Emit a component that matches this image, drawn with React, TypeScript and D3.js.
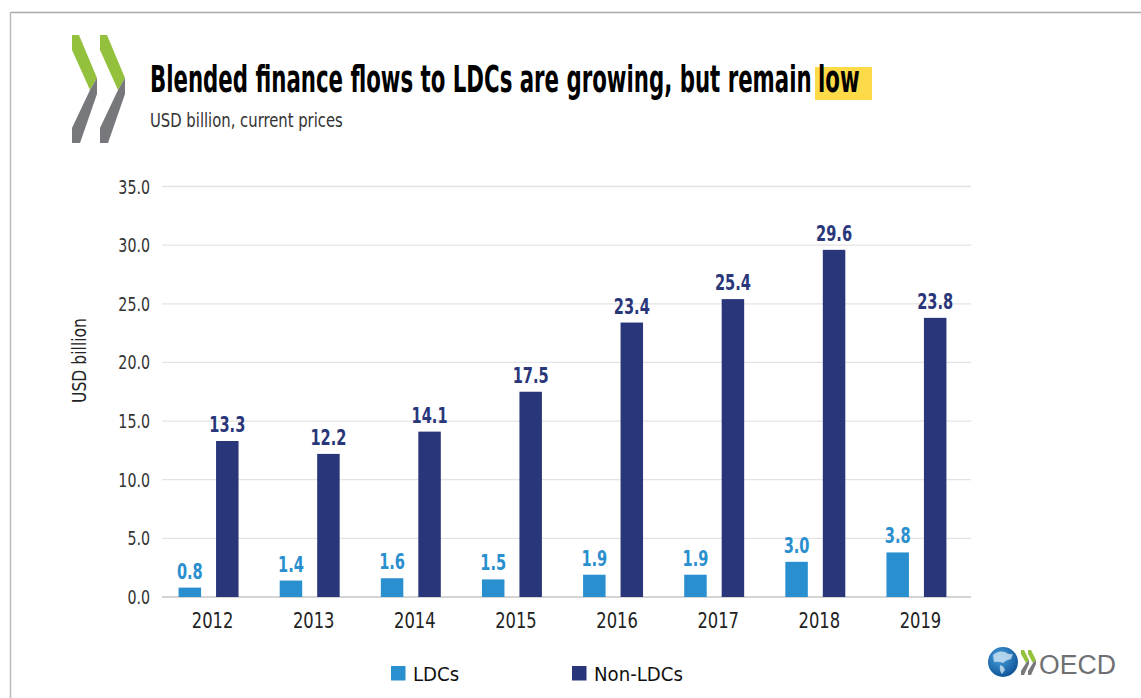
import React from "react";
import * as d3 from "d3";

const years = ["2012", "2013", "2014", "2015", "2016", "2017", "2018", "2019"];
const ldcs = [0.8, 1.4, 1.6, 1.5, 1.9, 1.9, 3.0, 3.8];
const nonLdcs = [13.3, 12.2, 14.1, 17.5, 23.4, 25.4, 29.6, 23.8];
const seriesNames = ["LDCs", "Non-LDCs"];
const seriesColors = ["#2a8fce", "#29377a"];
const yTicks = [0, 5, 10, 15, 20, 25, 30, 35];

const W = 1141;
const H = 698;
const plot = { left: 162, right: 971, top: 186.5, bottom: 597 };
const font = "'DejaVu Sans Condensed', 'DejaVu Sans', sans-serif";

// the original uses a narrow house font; squeeze a local font to the same widths
let ctx: CanvasRenderingContext2D | null = null;
function squeeze(sample: string, size: number, target: number, weight = "normal", family = font) {
  if (!ctx) ctx = document.createElement("canvas").getContext("2d");
  if (!ctx) return 1;
  ctx.font = `${weight} ${size}px ${family}`;
  const w = ctx.measureText(sample).width;
  return w > 0 ? target / w : 1;
}

function NText(props: {
  x: number; y: number; k: number; size: number; anchor?: string; weight?: string;
  fill: string; family?: string; rotate?: number; children: React.ReactNode;
}) {
  const { x, y, k, size, anchor = "start", weight = "normal", fill, family = font, rotate = 0 } = props;
  return (
    <g transform={`translate(${x},${y}) rotate(${rotate}) scale(${k},1)`}>
      <text textAnchor={anchor} fontSize={size} fontWeight={weight} fill={fill} fontFamily={family}>
        {props.children}
      </text>
    </g>
  );
}

function Chevron({ dx }: { dx: number }) {
  return (
    <g transform={`translate(${dx},0)`}>
      <polygon points="72,35 79,35 97,78 90,90 72,50" fill="#94c13d" />
      <polygon points="90,90 97,78 97,94 80,143 72,143 72,128" fill="#77787b" />
    </g>
  );
}

export default function App() {
  const x0 = d3.scaleBand<string>().domain(years).range([plot.left - 4, plot.right - 4]).paddingInner(0.407).paddingOuter(0.2035);
  const x1 = d3.scaleBand<string>().domain(seriesNames).range([0, x0.bandwidth()]).paddingInner(0.4);
  const y = d3.scaleLinear().domain([0, 35]).range([plot.bottom, plot.top]);
  const fmt = d3.format(".1f");

  const kTitle = squeeze("Blended finance flows to LDCs are growing, but remain", 38, 662, "bold");
  const kSub = squeeze("USD billion, current prices", 19, 193);
  const kTick = squeeze("35.0", 19, 31.7);
  const kYear = squeeze("2012", 22, 41.6);
  const kVal = squeeze("13.3", 20.5, 36, "bold");
  const kLeg = squeeze("Non-LDCs", 20, 89);
  const kYLab = squeeze("USD billion", 19, 85);
  const oecdFont = "'Liberation Sans', sans-serif";
  const kOecd = squeeze("OECD", 28, 77, "normal", oecdFont);

  const rows = years.map((yr, i) => ({ yr, vals: [ldcs[i], nonLdcs[i]] }));

  return (
    <svg width={W} height={H} style={{ position: "absolute", left: 0, top: 0, background: "#fff" }}>
      {/* frame */}
      <line x1={10.5} x2={W} y1={12.5} y2={12.5} stroke="#aaa" strokeWidth={1.5} />
      <line x1={10.5} x2={10.5} y1={12} y2={H} stroke="#bbb" strokeWidth={1.5} />

      <Chevron dx={0} />
      <Chevron dx={28} />

      {/* title */}
      <rect x={815} y={67} width={57} height={33} fill="#fcda48" />
      <NText x={150} y={92} k={kTitle} size={38} weight="bold" fill="#000">
        Blended finance flows to LDCs are growing, but remain
      </NText>
      <NText x={818} y={92} k={kTitle} size={38} weight="bold" fill="#000">
        low
      </NText>
      <NText x={150} y={127} k={kSub} size={19} fill="#333">
        USD billion, current prices
      </NText>

      {/* grid + y ticks */}
      {yTicks.map((t) => (
        <g key={t}>
          <line x1={plot.left} x2={plot.right} y1={y(t)} y2={y(t)} stroke={t === 0 ? "#d4d4d4" : "#e3e3e3"} strokeWidth={t === 0 ? 2 : 1.3} />
          <NText x={150} y={y(t) + 7} k={kTick} size={19} anchor="end" fill="#333">
            {fmt(t)}
          </NText>
        </g>
      ))}
      <NText x={86} y={360.5} k={kYLab} size={19} anchor="middle" fill="#222" rotate={-90}>
        USD billion
      </NText>

      {/* bars */}
      {rows.map((r) => (
        <g key={r.yr} transform={`translate(${x0(r.yr)},0)`}>
          {r.vals.map((v, j) => {
            const bx = x1(seriesNames[j]) as number;
            return (
              <g key={j}>
                <rect x={bx} y={y(v)} width={x1.bandwidth()} height={plot.bottom - y(v)} fill={seriesColors[j]} />
                <NText x={bx + x1.bandwidth() / 2} y={y(v) - 9} k={kVal} size={20.5} weight="bold" anchor="middle" fill={seriesColors[j]}>
                  {fmt(v)}
                </NText>
              </g>
            );
          })}
          <NText x={x0.bandwidth() / 2 + 4} y={628} k={kYear} size={22} anchor="middle" fill="#222">
            {r.yr}
          </NText>
        </g>
      ))}

      {/* legend */}
      {seriesNames.map((s, i) => {
        const lx = [391, 572][i];
        return (
          <g key={s}>
            <rect x={lx} y={666} width={14.5} height={14.5} fill={seriesColors[i]} />
            <NText x={lx + 22} y={681} k={kLeg} size={20} fill="#111">
              {s}
            </NText>
          </g>
        );
      })}

      {/* OECD mark */}
      <defs>
        <radialGradient id="globe" cx="0.4" cy="0.35" r="0.7">
          <stop offset="0" stopColor="#4aa3e0" />
          <stop offset="1" stopColor="#0b4f94" />
        </radialGradient>
      </defs>
      <circle cx={1003} cy={662} r={15} fill="url(#globe)" />
      <path d="M993,655 q5,-5 12,-3 q4,3 8,2 l-2,5 q-5,1 -8,4 q-4,-2 -9,-1 z" fill="#cfe3f3" opacity={0.8} />
      <path d="M1000,665 q4,1 5,5 l-3,4 q-3,-3 -2,-9 z" fill="#cfe3f3" opacity={0.8} />
      <polygon points="1021,650 1024,650 1029,660 1026,663 1021,654" fill="#94c13d" />
      <polygon points="1026,663 1029,660 1029,664 1024,675 1021,675 1021,671" fill="#77787b" />
      <polygon points="1028,650 1031,650 1036,660 1033,663 1028,654" fill="#94c13d" />
      <polygon points="1033,663 1036,660 1036,664 1031,675 1028,675 1028,671" fill="#77787b" />
      <NText x={1039} y={674} k={kOecd} size={28} fill="#6f7073" family={oecdFont}>
        OECD
      </NText>
    </svg>
  );
}
